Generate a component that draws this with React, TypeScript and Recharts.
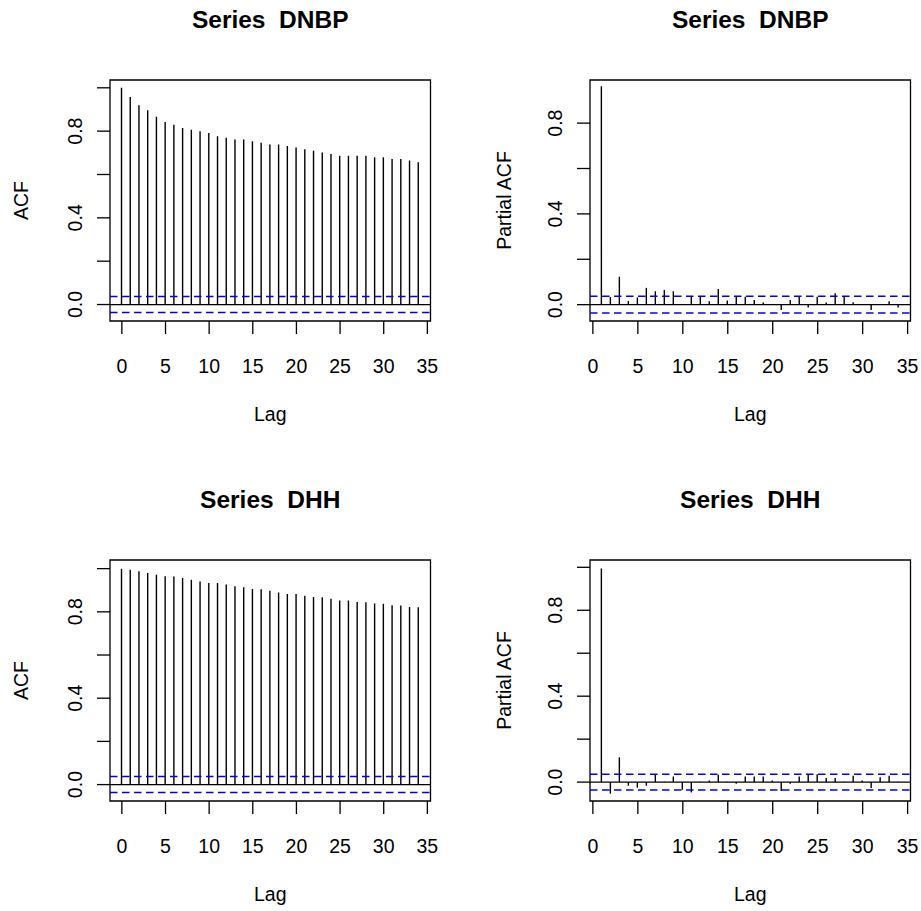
import React from 'react';
import { ComposedChart, Bar, XAxis, YAxis, ReferenceLine, ReferenceArea } from 'recharts';

const FONT = '"Liberation Sans", Arial, Helvetica, sans-serif';

// ---- data ----
const acfLags = [0, 1, 2, 3, 4, 5, 6, 7, 8, 9, 10, 11, 12, 13, 14, 15, 16, 17, 18, 19, 20, 21, 22, 23, 24, 25, 26, 27, 28, 29, 30, 31, 32, 33, 34];
const pacfLags = [1, 2, 3, 4, 5, 6, 7, 8, 9, 10, 11, 12, 13, 14, 15, 16, 17, 18, 19, 20, 21, 22, 23, 24, 25, 26, 27, 28, 29, 30, 31, 32, 33, 34];

const acfDNBP = [1.0, 0.957, 0.919, 0.897, 0.866, 0.842, 0.830, 0.814, 0.807, 0.799, 0.792, 0.776, 0.770, 0.761, 0.761, 0.753, 0.746, 0.738, 0.738, 0.731, 0.724, 0.716, 0.709, 0.701, 0.694, 0.687, 0.687, 0.686, 0.686, 0.679, 0.679, 0.672, 0.672, 0.665, 0.656];
const pacfDNBP = [0.962, 0.034, 0.123, 0.016, 0.032, 0.074, 0.059, 0.065, 0.059, 0.003, 0.035, 0.035, 0.015, 0.069, 0.018, 0.035, 0.035, 0.020, 0.009, 0.003, -0.024, 0.020, 0.035, -0.012, 0.035, 0.010, 0.050, 0.035, 0.011, -0.002, -0.024, 0.002, 0.015, -0.012];

const acfDHH = [1.0, 0.995, 0.988, 0.980, 0.972, 0.965, 0.964, 0.957, 0.949, 0.941, 0.934, 0.933, 0.926, 0.918, 0.914, 0.906, 0.905, 0.898, 0.890, 0.883, 0.882, 0.875, 0.869, 0.867, 0.860, 0.853, 0.852, 0.846, 0.844, 0.838, 0.837, 0.830, 0.829, 0.822, 0.821];
const pacfDHH = [0.995, -0.054, 0.116, -0.017, -0.026, -0.017, 0.034, 0.002, 0.026, -0.036, -0.048, 0.002, 0.008, 0.034, 0.002, -0.008, 0.026, 0.026, 0.026, 0.008, -0.042, -0.008, 0.026, 0.037, 0.037, 0.019, 0.019, 0.002, 0.030, 0.008, -0.028, 0.023, 0.030, 0.002];

const xTicks = [0, 5, 10, 15, 20, 25, 30, 35];
const yTicks = [0, 0.2, 0.4, 0.6, 0.8, 1.0];
const yTickLabels = [0, 0.4, 0.8];
const ciBound = 0.037;

// ---- rendering helpers ----
const Stem = (props: any) => {
  const { x, y, width, height } = props;
  if (x == null || y == null) return null;
  const cx = x + width / 2;
  return <line x1={cx} x2={cx} y1={y} y2={y + height} stroke="#000" strokeWidth={1.4} />;
};

const XTick = (props: any) => {
  const { x, y, payload } = props;
  return (
    <text x={x} y={y + 37} textAnchor="middle" fontSize={19.5} fontFamily={FONT} fill="#000">
      {payload.value}
    </text>
  );
};

const YTick = (props: any) => {
  const { x, y, payload } = props;
  const v = payload.value;
  if (!yTickLabels.some((t) => Math.abs(t - v) < 1e-9)) return null;
  return (
    <text
      transform={`translate(${x - 13},${y}) rotate(-90)`}
      textAnchor="middle"
      fontSize={19.5}
      fontFamily={FONT}
      fill="#000"
    >
      {v.toFixed(1)}
    </text>
  );
};

type PanelProps = {
  left: number;
  top: number;
  height: number;
  title: string;
  ylab: string;
  ylabOffset: number;
  lags: number[];
  values: number[];
  xDomain: [number, number];
  yDomain: [number, number];
};

function Panel(p: PanelProps) {
  const data = p.lags.map((lag, i) => ({ lag, v: p.values[i] }));
  const ticksY = yTicks.filter((t) => t <= p.yDomain[1]);
  const xAxisH = 60;
  const yAxisW = 60;
  const titleLabel = (lp: any) => {
    const vb = lp.viewBox || {};
    return (
      <text
        x={vb.x + vb.width / 2}
        y={vb.y - 51.7}
        textAnchor="middle"
        fontSize={24.5}
        fontWeight="bold"
        fontFamily={FONT}
        fill="#000"
        style={{ whiteSpace: 'pre' }}
      >
        {p.title}
      </text>
    );
  };
  const xLabel = (lp: any) => {
    const vb = lp.viewBox || {};
    return (
      <text x={vb.x + vb.width / 2} y={vb.y + 100} textAnchor="middle" fontSize={19.5} fontFamily={FONT} fill="#000">
        Lag
      </text>
    );
  };
  const yLabel = (lp: any) => {
    const vb = lp.viewBox || {};
    const bx = vb.x + vb.width - p.ylabOffset;
    const cy = vb.y + vb.height / 2;
    return (
      <text
        transform={`translate(${bx},${cy}) rotate(-90)`}
        textAnchor="middle"
        fontSize={19.5}
        fontFamily={FONT}
        fill="#000"
      >
        {p.ylab}
      </text>
    );
  };
  return (
    <div style={{ position: 'absolute', left: p.left, top: p.top }}>
      <ComposedChart
        width={460}
        height={p.height}
        data={data}
        margin={{ top: 80, right: 29.5, bottom: p.height - 321 - xAxisH, left: 110 - yAxisW }}
      >
        <XAxis
          dataKey="lag"
          type="number"
          domain={p.xDomain}
          ticks={xTicks}
          interval={0}
          allowDataOverflow
          tickSize={13}
          axisLine={false}
          tickLine={{ stroke: '#000', strokeWidth: 1.3 }}
          height={xAxisH}
          tick={XTick}
          label={xLabel}
        />
        <YAxis
          type="number"
          domain={p.yDomain}
          ticks={ticksY}
          interval={0}
          allowDataOverflow
          tickSize={13}
          axisLine={false}
          tickLine={{ stroke: '#000', strokeWidth: 1.3 }}
          width={yAxisW}
          tick={YTick}
          label={yLabel}
        />
        <ReferenceArea
          x1={p.xDomain[0]}
          x2={p.xDomain[1]}
          y1={p.yDomain[0]}
          y2={p.yDomain[1]}
          fill="none"
          fillOpacity={0}
          stroke="#000"
          strokeWidth={1.3}
          ifOverflow="visible"
          label={titleLabel}
        />
        <Bar dataKey="v" barSize={2} fill="#000" shape={Stem} isAnimationActive={false} />
        <ReferenceLine y={0} stroke="#000" strokeWidth={1.3} />
        <ReferenceLine y={ciBound} stroke="#0000FF" strokeWidth={1.5} strokeDasharray="7.5 4.5" />
        <ReferenceLine y={-ciBound} stroke="#0000FF" strokeWidth={1.5} strokeDasharray="7.5 4.5" />
      </ComposedChart>
    </div>
  );
}

export default function App() {
  return (
    <div
      style={{
        position: 'absolute',
        left: 0,
        top: 0,
        width: 921,
        height: 911,
        background: '#fff',
        overflow: 'hidden',
        fontFamily: FONT,
      }}
    >
      <Panel
        left={0}
        top={0}
        height={480}
        title="Series  DNBP"
        ylab="ACF"
        ylabOffset={81.7}
        lags={acfLags}
        values={acfDNBP}
        xDomain={[-1.36, 35.36]}
        yDomain={[-0.076, 1.036]}
      />
      <Panel
        left={480}
        top={0}
        height={480}
        title="Series  DNBP"
        ylab="Partial ACF"
        ylabOffset={79}
        lags={pacfLags}
        values={pacfDNBP}
        xDomain={[-0.32, 35.32]}
        yDomain={[-0.072, 0.99]}
      />
      <Panel
        left={0}
        top={480}
        height={431}
        title="Series  DHH"
        ylab="ACF"
        ylabOffset={81.7}
        lags={acfLags}
        values={acfDHH}
        xDomain={[-1.36, 35.36]}
        yDomain={[-0.076, 1.04]}
      />
      <Panel
        left={480}
        top={480}
        height={431}
        title="Series  DHH"
        ylab="Partial ACF"
        ylabOffset={79}
        lags={pacfLags}
        values={pacfDHH}
        xDomain={[-0.32, 35.32]}
        yDomain={[-0.088, 1.034]}
      />
    </div>
  );
}
